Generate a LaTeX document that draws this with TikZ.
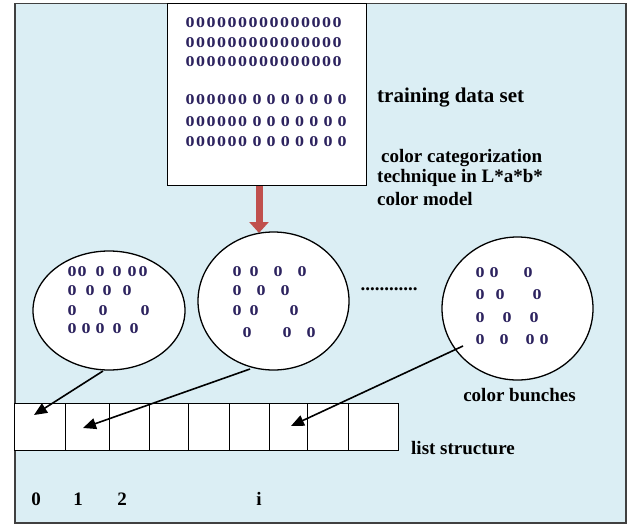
\documentclass[tikz,border=0pt]{standalone}
\usepackage{fontspec}
\setmainfont{Liberation Serif}
\newfontfamily\zf[FakeStretch=1.2]{Liberation Serif}
\usetikzlibrary{shapes.geometric,arrows.meta}
\definecolor{bgblue}{RGB}{219,238,244}
\definecolor{zcol}{RGB}{45,35,95}
\definecolor{redarr}{RGB}{192,80,77}
\begin{document}
\begin{tikzpicture}[x=1pt,y=-1pt,
  zero/.style={font=\zf\bfseries\fontsize{15}{15}\selectfont, text=zcol, inner sep=0pt},
  lbl/.style={font=\bfseries\fontsize{19}{20}\selectfont, inner sep=0pt, anchor=west, align=left},
  bunch/.style={draw, line width=1.3pt, fill=white, ellipse, inner sep=0pt},
  ptr/.style={-{Triangle[length=13pt,width=11pt]}, line width=1.6pt},
  boxx/.style={draw, line width=1.3pt, fill=white, inner sep=0pt, anchor=north west}]
\useasboundingbox (0,0) rectangle (628,524);
\node[draw=black!75, line width=1.5pt, fill=bgblue, minimum width=611pt, minimum height=519pt, anchor=north west, inner sep=0pt] (frame) at (14,3) {};
% training set box
\node[boxx, minimum width=199pt, minimum height=182pt] (train) at (167,3) {};
\foreach \y/\r in {23/a,43/b,62/c}
  \foreach \i in {0,...,14}
    \node[zero] (z\r\i) at ({190+10.5*\i},\y) {0};
\foreach \y/\r in {100/d,122/e,142/f}{
  \foreach \i in {0,...,5}
    \node[zero] (z\r\i) at ({190+10.5*\i},\y) {0};
  \foreach \i in {0,...,6}
    \node[zero] (z\r w\i) at ({257+14.2*\i},\y) {0};
}
% red arrow
\coordinate (rs) at (259,186);
\coordinate (re) at (259,233);
\draw[redarr, line width=7pt, -{Triangle[length=11pt,width=19pt]}] (rs) -- (re);
% list structure
\node[boxx, minimum width=384pt, minimum height=47pt] (list) at (14,403) {};
\foreach \x [count=\k] in {65,109,149,188,229,269,307,348}
  \draw[line width=1pt] (\x,403) coordinate (d\k) -- (\x,450);
% bunches
\node[bunch, minimum width=152pt, minimum height=119pt] (c1) at (109,310.5) {};
\node[bunch, minimum width=151pt, minimum height=138pt] (c2) at (273.5,301) {};
\node[bunch, minimum width=151pt, minimum height=143pt] (c3) at (517.5,308.5) {};
% zeros in circle 1
\foreach \x [count=\k] in {72,82,100,117,132,143} \node[zero] (p1a\k) at (\x,272) {0};
\foreach \x [count=\k] in {72,90,107,127} \node[zero] (p1b\k) at (\x,291) {0};
\foreach \x [count=\k] in {72,103,145} \node[zero] (p1c\k) at (\x,311) {0};
\foreach \x [count=\k] in {72,86,100,117,134} \node[zero] (p1d\k) at (\x,329) {0};
% zeros in circle 2
\foreach \x [count=\k] in {237,254,278,302} \node[zero] (p2a\k) at (\x,272) {0};
\foreach \x [count=\k] in {237,261,285} \node[zero] (p2b\k) at (\x,291) {0};
\foreach \x [count=\k] in {237,254,294} \node[zero] (p2c\k) at (\x,311) {0};
\foreach \x [count=\k] in {247,287,311} \node[zero] (p2d\k) at (\x,333) {0};
% zeros in circle 3
\foreach \x [count=\k] in {480,494,528} \node[zero] (p3a\k) at (\x,273) {0};
\foreach \x [count=\k] in {480,500,537} \node[zero] (p3b\k) at (\x,295) {0};
\foreach \x [count=\k] in {480,507,534} \node[zero] (p3c\k) at (\x,318) {0};
\foreach \x [count=\k] in {480,504,530,544} \node[zero] (p3d\k) at (\x,340) {0};
% pointers
\coordinate (s1) at (103,371);
\coordinate (s2) at (250,369);
\coordinate (s3) at (463,346);
\coordinate (t0) at (34,415);
\coordinate (t1) at (83,428);
\coordinate (ti) at (291,426);
\draw[ptr] (s1) -- (t0);
\draw[ptr] (s2) -- (t1);
\draw[ptr] (s3) -- (ti);
% labels
\node[lbl, font=\bfseries\fontsize{21}{22}\selectfont] (ltrain) at (377,98) {training data set};
\node[lbl] (ltech1) at (381,158) {color categorization};
\node[lbl] (ltech2) at (377,178) {technique in L*a*b*};
\node[lbl] (ltech3) at (377,199) {color model};
\node[font=\bfseries\fontsize{19}{20}\selectfont, inner sep=0pt] (dots) at (389,289) {............};
\node[font=\bfseries\fontsize{19}{20}\selectfont, inner sep=0pt] (lbunch) at (519.5,395) {color bunches};
\node[lbl] (llist) at (411,448) {list structure};
\node[font=\bfseries\fontsize{19}{20}\selectfont, inner sep=0pt] (i0) at (36,499) {0};
\node[font=\bfseries\fontsize{19}{20}\selectfont, inner sep=0pt] (i1) at (78,499) {1};
\node[font=\bfseries\fontsize{19}{20}\selectfont, inner sep=0pt] (i2) at (122,499) {2};
\node[font=\bfseries\fontsize{19}{20}\selectfont, inner sep=0pt] (ii) at (259,499) {i};
\end{tikzpicture}
\end{document}
